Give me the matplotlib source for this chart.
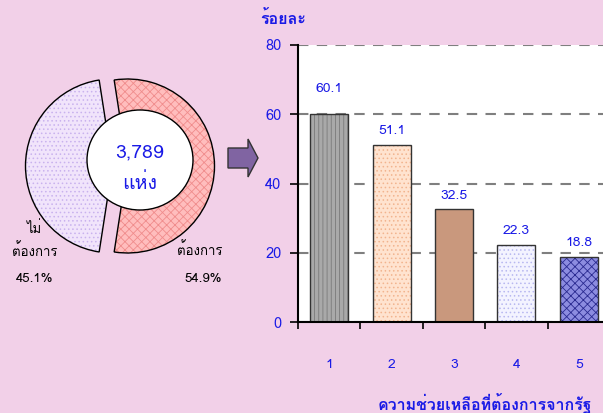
import matplotlib
matplotlib.use("Agg")
import matplotlib.pyplot as plt
import matplotlib.patches as mpatches
from matplotlib import font_manager
from matplotlib.ft2font import FT2Font

# bar chart data
categories = ["1", "2", "3", "4", "5"]
values = [60.1, 51.1, 32.5, 22.3, 18.8]
yticks = [0, 20, 40, 60, 80]
ylabel = "ร้อยละ"
xlabel = "ความช่วยเหลือที่ต้องการจากรัฐ"

# pie data
pie_labels = ["ไม่\nต้องการ", "ต้องการ"]
pie_values = [45.1, 54.9]
total_num = "3,789"
total_unit = "แห่ง"

BG = "#F2D0E8"
BLUE = "#1A1AE6"
W, H = 603, 413


def thai_font():
    for f in font_manager.fontManager.ttflist:
        try:
            if 0x0E23 in FT2Font(f.fname).get_charmap():
                return f.name
        except Exception:
            pass
    return None


tf = thai_font()
plt.rcParams['font.family'] = ([tf] if tf else []) + ['DejaVu Sans']


def px(x, y):
    return x / W, 1 - y / H


fig = plt.figure(figsize=(W / 100, H / 100), dpi=100, facecolor=BG)

# overlay in pixel coords for the pie, hole and arrow
ov = fig.add_axes([0, 0, 1, 1])
ov.set_axis_off()

pie_face = ["#F1E4FB", "#FFBDBD"]
pie_hatch_col = ["#C9B2EE", "#F08C8C"]
pie_hatch = ["....", "xxxx"]
plt.rcParams['hatch.linewidth'] = 0.6
cx, cy, r = 120, H - 166, 87
start = 180 - pie_values[0] / 100 * 180
wedges, _ = ov.pie(pie_values, center=(cx, cy), radius=r, startangle=start,
                   explode=[7.5, 7.5], colors=pie_face, hatch=pie_hatch,
                   wedgeprops=dict(linewidth=0))
for w, hc in zip(wedges, pie_hatch_col):
    w.set_edgecolor(hc)
ov.pie(pie_values, center=(cx, cy), radius=r, startangle=start,
       explode=[7.5, 7.5],
       wedgeprops=dict(fill=False, edgecolor="black", linewidth=1))

ov.add_patch(mpatches.Ellipse((140, H - 160), 106, 100, facecolor="white",
                              edgecolor="black", linewidth=1, zorder=5))
ov.text(140, H - 152, total_num, ha="center", va="center", color=BLUE,
        fontsize=14, zorder=6)
ov.text(140, H - 183, total_unit, ha="center", va="center", color=BLUE,
        fontsize=14, zorder=6)

ov.text(35, H - 240, pie_labels[0], ha="center", va="center", fontsize=9.5,
        linespacing=1.6)
ov.text(35, H - 279, f"{pie_values[0]}%", ha="center", va="center",
        fontsize=9.5)
ov.text(200, H - 250, pie_labels[1], ha="center", va="center", fontsize=9.5)
ov.text(203, H - 279, f"{pie_values[1]}%", ha="center", va="center",
        fontsize=9.5)

ov.add_patch(mpatches.FancyArrow(228, H - 158, 20, 0, width=20, head_width=38,
                                 head_length=10, length_includes_head=False,
                                 facecolor="#8064A2", edgecolor="#333333",
                                 linewidth=1))
ov.set_xlim(0, W)
ov.set_ylim(0, H)

# bar chart
ax = fig.add_axes([298 / W, 91 / H, 312 / W, 277 / H])
ax.set_facecolor("white")
x = range(len(values))
bar_face = ["#A9A9A9", "#FFE3CF", "#C9987D", "#F3F3FF", "#8C8CE0"]
bar_hatch = ["||||", "....", "", "....", "xxxx"]
bar_hatch_col = ["#7A7A7A", "#F2B48E", "#C9987D", "#B8B8F0", "#2A2A90"]
bars = ax.bar(x, values, width=0.61, color=bar_face, hatch=bar_hatch,
              linewidth=0)
for b, hc in zip(bars, bar_hatch_col):
    b.set_edgecolor(hc)
ax.bar(x, values, width=0.61, fill=False, edgecolor="#333333", linewidth=1)

for i, v in enumerate(values):
    pad = 5.5 if i == 0 else 2.3
    ax.text(i, v + pad, f"{v}", ha="center", va="bottom", color=BLUE,
            fontsize=10)

ax.set_xlim(-0.5, 4.5)
ax.set_ylim(0, 80)
ax.set_yticks(yticks)
ax.yaxis.grid(True, linestyle=(0, (5, 4)), color="#7F7F7F", linewidth=1.5)
ax.set_axisbelow(True)
for s in ["top", "right"]:
    ax.spines[s].set_visible(False)
for s in ["left", "bottom"]:
    ax.spines[s].set_linewidth(1.5)
ax.tick_params(axis="y", direction="out", length=6, width=1.2,
               labelcolor=BLUE, labelsize=10.5, pad=6)
ax.set_xticks(list(x))
ax.set_xticklabels(categories)
ax.set_xticks([i - 0.5 for i in range(len(values) + 1)], minor=True)
ax.tick_params(axis="x", which="major", length=0, labelcolor=BLUE,
               labelsize=10, pad=27)
ax.tick_params(axis="x", which="minor", direction="out", length=5, width=1.2)

fig.text(*px(283, 18), ylabel, ha="center", va="center", color=BLUE,
         fontsize=11.5, fontweight="bold")
fig.text(*px(485, 404), xlabel, ha="center", va="center", color=BLUE,
         fontsize=11.5, fontweight="bold")

fig.savefig("out.png", dpi=100, facecolor=BG)
